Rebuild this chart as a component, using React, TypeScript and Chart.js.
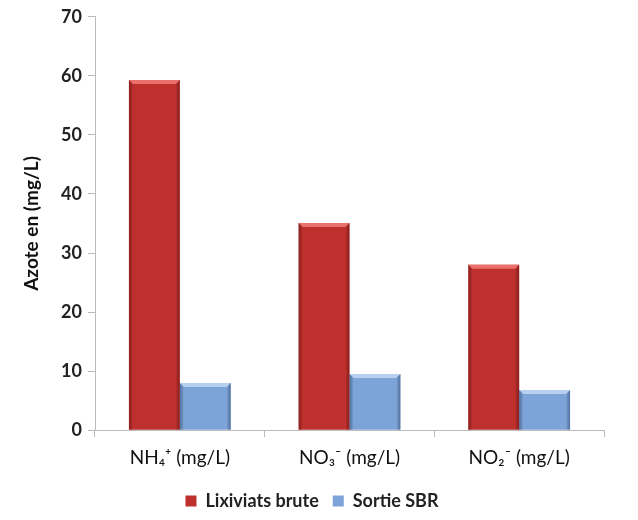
import React, { useEffect, useRef } from "react";
import { Chart, registerables } from "chart.js";
Chart.register(...registerables);

const categories = ["NH₄⁺ (mg/L)", "NO₃⁻ (mg/L)", "NO₂⁻ (mg/L)"];
const lixiviatsBrute = [59.3, 35.1, 28.0];
const sortieSBR = [8.0, 9.5, 6.8];
const seriesNames = ["Lixiviats brute", "Sortie SBR"];
const yMin = 0;
const yMax = 70;
const yStep = 10;
const yTitle = "Azote en (mg/L)";

const bevelColors = [
  { light: "#E9706B", dark: "rgba(90,10,10,0.45)" },
  { light: "#B8D0F0", dark: "rgba(30,60,110,0.45)" },
];

const bevelPlugin = {
  id: "bevel",
  afterDatasetsDraw(chart: any) {
    const ctx = chart.ctx;
    chart.data.datasets.forEach((_ds: any, i: number) => {
      const meta = chart.getDatasetMeta(i);
      const c = bevelColors[i];
      meta.data.forEach((bar: any) => {
        const { x, y, base, width } = bar.getProps(["x", "y", "base", "width"], true);
        const left = x - width / 2;
        const right = x + width / 2;
        const e = 4;
        ctx.save();
        const g = ctx.createLinearGradient(left, 0, right, 0);
        g.addColorStop(0, c.dark);
        g.addColorStop(0.08, "rgba(0,0,0,0)");
        g.addColorStop(0.92, "rgba(0,0,0,0)");
        g.addColorStop(1, c.dark);
        ctx.fillStyle = g;
        ctx.fillRect(left, y, width, base - y);
        ctx.fillStyle = c.light;
        ctx.beginPath();
        ctx.moveTo(left, y);
        ctx.lineTo(right, y);
        ctx.lineTo(right - e, y + e);
        ctx.lineTo(left + e, y + e);
        ctx.closePath();
        ctx.fill();
        ctx.restore();
      });
    });
  },
};

export default function App() {
  const ref = useRef<HTMLCanvasElement>(null);
  useEffect(() => {
    if (!ref.current) return;
    const chart = new Chart(ref.current, {
      type: "bar",
      data: {
        labels: categories,
        datasets: [
          {
            label: seriesNames[0],
            data: lixiviatsBrute,
            backgroundColor: "#BE302D",
            borderWidth: 0,
            categoryPercentage: 0.6,
            barPercentage: 1,
          },
          {
            label: seriesNames[1],
            data: sortieSBR,
            backgroundColor: "#7DA4D8",
            borderWidth: 0,
            categoryPercentage: 0.6,
            barPercentage: 1,
          },
        ],
      },
      options: {
        animation: false,
        responsive: false,
        maintainAspectRatio: false,
        layout: { padding: { top: 6, right: 34, left: 20, bottom: 0 } },
        plugins: {
          tooltip: { enabled: false },
          legend: {
            position: "bottom",
            labels: {
              boxWidth: 11,
              boxHeight: 11,
              padding: 14,
              color: "#222",
              font: { family: "Lato", size: 18, weight: "bold" },
            },
          },
        },
        scales: {
          x: {
            grid: {
              drawOnChartArea: false,
              offset: true,
              tickLength: 7,
              color: "#BBBBBB",
            },
            border: { color: "#BBBBBB" },
            ticks: {
              color: "#111",
              padding: 9,
              font: { family: "Lato", size: 19 },
            },
          },
          y: {
            min: yMin,
            max: yMax,
            afterFit: (s: any) => {
              s.width = 75;
            },
            grid: {
              drawOnChartArea: false,
              tickLength: 7,
              color: "#BBBBBB",
            },
            border: { color: "#BBBBBB" },
            ticks: {
              stepSize: yStep,
              color: "#222",
              padding: 6,
              font: { family: "Lato", size: 18, weight: "bold" },
            },
            title: {
              display: true,
              text: yTitle,
              color: "#111",
              padding: { top: 0, bottom: 6 },
              font: { family: "Lato", size: 19, weight: "bold" },
            },
          },
        },
      },
      plugins: [bevelPlugin],
    });
    return () => chart.destroy();
  }, []);
  return (
    <div style={{ position: "absolute", left: 0, top: 0, width: 638, height: 520, background: "#fff" }}>
      <canvas ref={ref} width={638} height={520} />
    </div>
  );
}
